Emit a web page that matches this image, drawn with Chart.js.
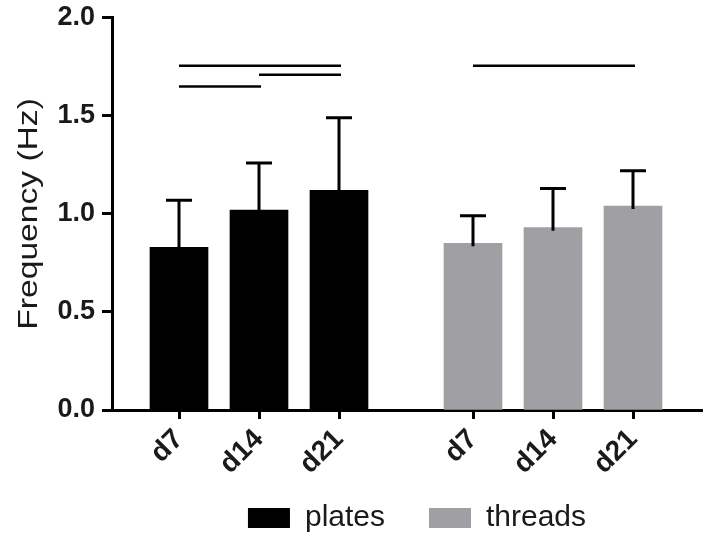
<!DOCTYPE html>
<html>
<head>
<meta charset="utf-8">
<script src="https://cdn.jsdelivr.net/npm/chart.js@4"></script>
<style>
  html, body { margin: 0; padding: 0; background: #fff; }
  #wrap { width: 707px; height: 535px; }
</style>
</head>
<body>
<div id="wrap"><canvas id="freqChart"></canvas></div>
<script>
'use strict';

const days = ['d7', 'd14', 'd21'];
const platesX = [1, 2, 3];
const threadsX = [4.675, 5.675, 6.675];
const platesMean = [0.83, 1.02, 1.12];
const platesSD = [0.24, 0.24, 0.37];
const threadsMean = [0.85, 0.93, 1.04];
const threadsSD = [0.14, 0.20, 0.18];
const yTicks = [0, 0.5, 1.0, 1.5, 2.0];

// significance bars: [from index, to index, height]
const platesSig = [[0, 1, 1.65], [1, 2, 1.71], [0, 2, 1.755]];
const threadsSig = [[0, 2, 1.755]];

const FONT = '"Liberation Sans", Arial, Helvetica, sans-serif';
const tickLabels = days.concat(days);
const allX = platesX.concat(threadsX);

function toPoints(xs, ys) {
  return xs.map((x, i) => ({ x: x, y: ys[i] }));
}

// error bars (upper half only) and the comparison lines above the groups
const annotations = {
  id: 'annotations',
  afterDatasetsDraw(chart) {
    const ctx = chart.ctx;
    const xScale = chart.scales.x;
    const yScale = chart.scales.y;
    ctx.save();
    ctx.strokeStyle = '#000';
    ctx.lineCap = 'butt';

    chart.data.datasets.forEach((ds, i) => {
      const meta = chart.getDatasetMeta(i);
      meta.data.forEach((bar, j) => {
        const top = yScale.getPixelForValue(ds.data[j].y + ds.sd[j]);
        ctx.lineWidth = 3;
        ctx.beginPath();
        ctx.moveTo(bar.x, bar.y + 3);
        ctx.lineTo(bar.x, top);
        ctx.moveTo(bar.x - 13, top);
        ctx.lineTo(bar.x + 13, top);
        ctx.stroke();
      });
    });

    const sigGroups = [[platesSig, platesX], [threadsSig, threadsX]];
    ctx.lineWidth = 2.5;
    for (const [sig, xs] of sigGroups) {
      for (const [a, b, v] of sig) {
        const y = yScale.getPixelForValue(v);
        ctx.beginPath();
        ctx.moveTo(xScale.getPixelForValue(xs[a]), y);
        ctx.lineTo(xScale.getPixelForValue(xs[b]) + 2, y);
        ctx.stroke();
      }
    }
    ctx.restore();
  },
  afterDraw(chart) {
    // y axis title, slightly widened along its length
    const ctx = chart.ctx;
    const area = chart.chartArea;
    ctx.save();
    ctx.translate(37, (area.top + area.bottom) / 2);
    ctx.rotate(-Math.PI / 2);
    ctx.scale(1.2, 1);
    ctx.font = '28px ' + FONT;
    ctx.fillStyle = '#1a1a1a';
    ctx.textAlign = 'center';
    ctx.textBaseline = 'alphabetic';
    ctx.fillText('Frequency (Hz)', 0, 0);
    ctx.restore();
  }
};

// move the legend a little right and up so it sits under the plot
const legendShift = {
  id: 'legendShift',
  afterLayout(chart) {
    const lg = chart.legend;
    if (lg) {
      lg.left += 10;
      lg.right += 10;
      lg.top -= 21;
      lg.bottom -= 21;
    }
  }
};

const ctx = document.getElementById('freqChart').getContext('2d');

const freqChart = new Chart(ctx, {
  type: 'bar',
  data: {
    datasets: [{
      label: 'plates',
      data: toPoints(platesX, platesMean),
      sd: platesSD,
      backgroundColor: '#000000',
      borderWidth: 0
    }, {
      label: 'threads',
      data: toPoints(threadsX, threadsMean),
      sd: threadsSD,
      backgroundColor: '#a0a0a4',
      borderWidth: 0
    }]
  },
  options: {
    responsive: true,
    maintainAspectRatio: false,
    animation: false,
    grouped: false,
    barThickness: 58,
    layout: {
      padding: { top: 16, right: 5, left: 0, bottom: -29 }
    },
    scales: {
      x: {
        type: 'linear',
        min: 0.1625,
        max: 7.5375,
        offset: false,
        afterBuildTicks(scale) {
          scale.ticks = allX.map(v => ({ value: v }));
        },
        afterFit(scale) {
          scale.height = 70;
        },
        grid: {
          display: true,
          drawOnChartArea: false,
          drawTicks: true,
          offset: false,
          tickLength: 9,
          tickWidth: 3,
          tickColor: '#000'
        },
        border: { display: true, color: '#000', width: 3 },
        ticks: {
          autoSkip: false,
          minRotation: 45,
          maxRotation: 45,
          padding: 4,
          color: '#1a1a1a',
          font: { family: FONT, size: 28, weight: 'bold' },
          callback: (value, index) => tickLabels[index]
        }
      },
      y: {
        min: 0,
        max: 2,
        afterBuildTicks(scale) {
          scale.ticks = yTicks.map(v => ({ value: v }));
        },
        afterFit(scale) {
          scale.width = 112;
        },
        grid: {
          display: true,
          drawOnChartArea: false,
          drawTicks: true,
          tickLength: 10,
          tickWidth: 3,
          tickColor: '#000'
        },
        border: { display: true, color: '#000', width: 3 },
        ticks: {
          padding: 7,
          color: '#1a1a1a',
          font: { family: FONT, size: 27, weight: 'bold', lineHeight: 0.8 },
          callback: v => v.toFixed(1)
        }
      }
    },
    plugins: {
      tooltip: { enabled: false },
      legend: {
        position: 'bottom',
        fullSize: false,
        labels: {
          boxWidth: 42,
          boxHeight: 20,
          padding: 44,
          color: '#1a1a1a',
          font: { family: FONT, size: 30 }
        }
      }
    }
  },
  plugins: [annotations, legendShift]
});
</script>
</body>
</html>
